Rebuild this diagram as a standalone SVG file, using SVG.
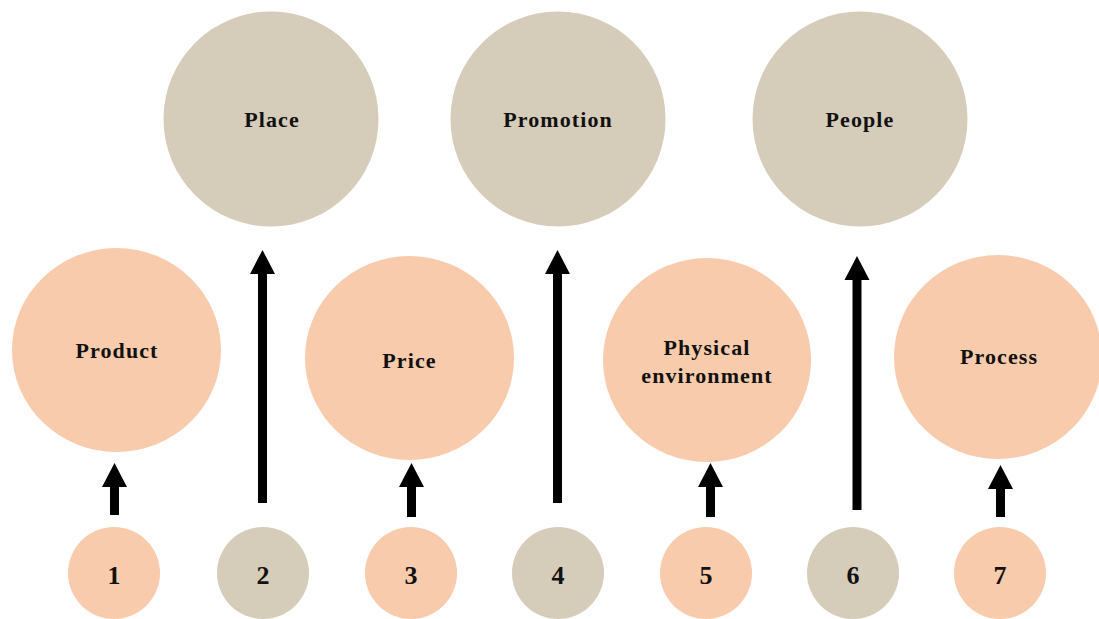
<svg xmlns="http://www.w3.org/2000/svg" width="1099" height="619" viewBox="0 0 1099 619">
<style>
.peach{fill:#F7CBAC}
.beige{fill:#D5CCB9}
.lbl{font-family:"Liberation Serif","Times New Roman",serif;font-weight:bold;font-size:22px;letter-spacing:1.1px;fill:#111;text-anchor:middle;dominant-baseline:central}
.num{font-family:"Liberation Serif","Times New Roman",serif;font-weight:bold;font-size:26px;fill:#111;text-anchor:middle;dominant-baseline:central}
.arr{fill:#000}
</style>
<rect width="1099" height="619" fill="#fff"/>
<g id="place"><circle class="beige" cx="271" cy="119" r="107.5"/><text class="lbl" x="272" y="119">Place</text></g>
<g id="promotion"><circle class="beige" cx="558" cy="119" r="107.5"/><text class="lbl" x="558" y="119">Promotion</text></g>
<g id="people"><circle class="beige" cx="860" cy="119" r="107.5"/><text class="lbl" x="860" y="119">People</text></g>
<g id="product"><ellipse class="peach" cx="116.5" cy="350" rx="104.5" ry="102"/><text class="lbl" x="117" y="350">Product</text></g>
<g id="price"><ellipse class="peach" cx="409.5" cy="358" rx="104.5" ry="102"/><text class="lbl" x="409.5" y="360">Price</text></g>
<g id="physical"><ellipse class="peach" cx="707" cy="360" rx="104" ry="102"/><text class="lbl" x="707" y="347">Physical</text><text class="lbl" x="707" y="375">environment</text></g>
<g id="process"><ellipse class="peach" cx="998" cy="357" rx="104" ry="102"/><text class="lbl" x="999" y="356">Process</text></g>
<g id="n1"><circle class="peach" cx="114" cy="573" r="46"/><text class="num" x="114" y="575">1</text></g>
<g id="n2"><circle class="beige" cx="263" cy="573" r="46"/><text class="num" x="263" y="575">2</text></g>
<g id="n3"><circle class="peach" cx="411" cy="573" r="46"/><text class="num" x="411" y="575">3</text></g>
<g id="n4"><circle class="beige" cx="558" cy="573" r="46"/><text class="num" x="558" y="575">4</text></g>
<g id="n5"><circle class="peach" cx="706" cy="573" r="46"/><text class="num" x="706" y="575">5</text></g>
<g id="n6"><circle class="beige" cx="853" cy="573" r="46"/><text class="num" x="853" y="575">6</text></g>
<g id="n7"><circle class="peach" cx="1000" cy="573" r="46"/><text class="num" x="1000" y="575">7</text></g>
<g id="connectors">
<path class="arr" d="M110,515 V487 H102 L114.5,463 L127,487 H119 V515 Z"/>
<path class="arr" d="M407,517 V487 H399 L411.5,463 L424,487 H416 V517 Z"/>
<path class="arr" d="M706,517 V487 H698 L710.5,463 L723,487 H715 V517 Z"/>
<path class="arr" d="M996,517 V489 H988 L1000.5,465 L1013,489 H1005 V517 Z"/>
<path class="arr" d="M258,503 V274 H250 L262.5,250 L275,274 H267 V503 Z"/>
<path class="arr" d="M553,503 V274 H545 L557.5,250 L570,274 H562 V503 Z"/>
<path class="arr" d="M852.5,510 V280 H844.5 L857,256 L869.5,280 H861.5 V510 Z"/>
</g>
</svg>
